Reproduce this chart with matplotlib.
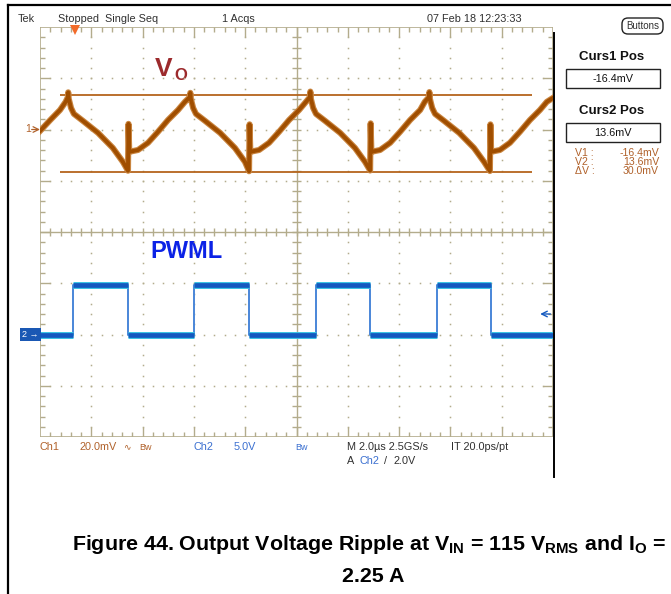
import matplotlib
matplotlib.use("Agg")
import matplotlib.pyplot as plt
import matplotlib.transforms as mtransforms
from matplotlib.patches import Rectangle, FancyBboxPatch
from matplotlib import font_manager as fm
import numpy as np

W, H = 671, 594

# ---------------- data ----------------
# Ch1: output voltage ripple (mV) vs time (us)
ch1_time_us = [-10.00, -9.60, -9.22, -9.00, -8.91, -8.90, -8.88, -8.79, -8.68, -8.33, -7.74, -7.16, -6.77, -6.57,
               -6.55, -6.52, -6.18, -5.79, -5.40, -5.01, -4.62, -4.35, -4.15, -4.14, -4.12, -4.03, -3.92, -3.57,
               -2.98, -2.40, -2.01, -1.85, -1.83, -1.80, -1.46, -1.07, -0.68, -0.29, 0.10, 0.37, 0.53, 0.54,
               0.56, 0.65, 0.76, 1.11, 1.70, 2.28, 2.67, 2.87, 2.89, 2.92, 3.26, 3.65, 4.04, 4.43, 4.82, 5.00,
               5.17, 5.18, 5.20, 5.29, 5.40, 5.75, 6.34, 6.92, 7.31, 7.54, 7.56, 7.59, 7.93, 8.32, 8.71, 9.10,
               9.49, 9.76, 9.98]
ch1_mv = [-0.6, 3.7, 7.6, 10.8, 12.7, 14.5, 12.0, 8.4, 6.1, 3.4, -1.3, -7.2, -12.6, -16.1,
          2.2, -8.7, -8.0, -5.2, -0.9, 3.7, 7.6, 10.8, 12.7, 14.3, 12.0, 8.4, 6.1, 3.4,
          -1.3, -7.2, -12.6, -16.3, 2.0, -8.7, -8.0, -5.2, -0.9, 3.7, 7.6, 10.8, 12.7, 14.8,
          12.0, 8.4, 6.1, 3.4, -1.3, -7.2, -12.6, -16.0, 2.4, -8.7, -8.0, -5.2, -0.9, 3.7, 7.6, 10.8,
          12.7, 14.6, 12.0, 8.4, 6.1, 3.4, -1.3, -7.2, -12.6, -16.2, 2.0, -8.7, -8.0, -5.2, -0.9, 3.7,
          7.6, 10.8, 12.2]

# Ch2: PWML gate signal edges (us) and levels (V)
pwm_rise_us = [-8.70, -3.98, 0.76, 5.46]
pwm_fall_us = [-6.56, -1.84, 2.88, 7.58]
pwm_high_v = 4.8
pwm_low_v = 0.0

# cursors, trigger and scope settings
cursor_mv = [-16.4, 13.6]
cursor_span_us = [-9.22, 9.18]
trigger_level_v = 2.0
trigger_time_us = -8.65
time_per_div_us = 2.0
ch1_mv_per_div = 20.0
ch2_v_per_div = 5.0
ch1_pos_div = 2.0
ch2_pos_div = -2.0

# ---------------- style ----------------
names = {f.name for f in fm.fontManager.ttflist}
NARROW = 'Liberation Sans Narrow' if 'Liberation Sans Narrow' in names else 'Liberation Sans'
NFAM = [NARROW, 'DejaVu Sans']
plt.rcParams['mathtext.fontset'] = 'custom'
plt.rcParams['mathtext.rm'] = 'Liberation Sans:bold'
plt.rcParams['mathtext.bf'] = 'Liberation Sans:bold'

GRAT = '#b3ac8c'
C1 = '#a04e00'
C1_LIGHT = '#c98540'
C1_TXT = '#b0612a'
CUR = '#b5651d'
C2 = '#1459bf'
C2_LIGHT = '#38c4e4'
C2_TXT = '#3a6fd0'
DARK = '#303030'

fig = plt.figure(figsize=(W / 100, H / 100), dpi=100)
fig.patch.set_facecolor('white')

# page axes in pixel units for frame and text
page = fig.add_axes([0, 0, 1, 1])
page.set_xlim(0, W)
page.set_ylim(H, 0)
page.axis('off')

# ---------------- graticule ----------------
L, R, T, B = 40, 553, 27, 437
pos = [L / W, 1 - B / H, (R - L) / W, (B - T) / H]
grat = fig.add_axes(pos)
grat.set_xlim(-5, 5)
grat.set_ylim(-4, 4)
grat.axis('off')
grat.patch.set_alpha(0)

grat.add_patch(Rectangle((-5, -4), 10, 8, fill=False, ec=GRAT, lw=1.2, zorder=1))
grat.axhline(0, color=GRAT, lw=1.0)
grat.axvline(0, color=GRAT, lw=1.0)
steps_x = np.round(np.arange(-5, 5.001, 0.2), 2)
steps_y = np.round(np.arange(-4, 4.001, 0.2), 2)
# dotted division lines
for xi in range(-4, 5):
    if xi == 0:
        continue
    ys = steps_y[1:-1]
    grat.plot(np.full(len(ys), xi), ys, ls='none', marker='s', ms=1.1, color=GRAT, mew=0)
for yi in range(-3, 4):
    if yi == 0:
        continue
    xs = steps_x[1:-1]
    grat.plot(xs, np.full(len(xs), yi), ls='none', marker='s', ms=1.1, color=GRAT, mew=0)
# ticks on centre lines and edges
for x in steps_x[1:-1]:
    major = abs(x - round(x)) < 1e-6
    grat.vlines(x, -0.08, 0.08, color=GRAT, lw=1.0)
    ln = 0.2 if major else 0.1
    grat.vlines(x, 4 - ln, 4, color=GRAT, lw=1.0)
    grat.vlines(x, -4, -4 + ln, color=GRAT, lw=1.0)
for y in steps_y[1:-1]:
    major = abs(y - round(y)) < 1e-6
    grat.hlines(y, -0.08, 0.08, color=GRAT, lw=1.0)
    ln = 0.2 if major else 0.1
    grat.hlines(y, -5, -5 + ln, color=GRAT, lw=1.0)
    grat.hlines(y, 5 - ln, 5, color=GRAT, lw=1.0)

# ---------------- Ch1 trace ----------------
ch1 = fig.add_axes(pos)
ch1.patch.set_alpha(0)
ch1.axis('off')
ch1.set_xlim(-5 * time_per_div_us, 5 * time_per_div_us)
ch1.set_ylim((-4 - ch1_pos_div) * ch1_mv_per_div, (4 - ch1_pos_div) * ch1_mv_per_div)
ch1.hlines(cursor_mv, cursor_span_us[0], cursor_span_us[1], color=CUR, lw=1.3, zorder=2)
ch1.plot(ch1_time_us, ch1_mv, color=C1_LIGHT, lw=4.4, solid_joinstyle='round', zorder=3)
ch1.plot(ch1_time_us, ch1_mv, color=C1, lw=2.8, solid_joinstyle='round', zorder=4)

# ---------------- Ch2 trace ----------------
ch2 = fig.add_axes(pos)
ch2.patch.set_alpha(0)
ch2.axis('off')
ch2.set_xlim(-5 * time_per_div_us, 5 * time_per_div_us)
ch2.set_ylim((-4 - ch2_pos_div) * ch2_v_per_div, (4 - ch2_pos_div) * ch2_v_per_div)
t0, t1 = ch2.get_xlim()
step_t = [t0]
step_v = [pwm_low_v]
for r, f in zip(pwm_rise_us, pwm_fall_us):
    step_t += [r, r, f, f]
    step_v += [pwm_low_v, pwm_high_v, pwm_high_v, pwm_low_v]
step_t.append(t1)
step_v.append(pwm_low_v)
ch2.plot(step_t, step_v, color='#4a86d8', lw=1.4, zorder=3)
low_starts = [t0] + pwm_fall_us
low_ends = pwm_rise_us + [t1]
low_lv = [pwm_low_v] * len(low_starts)
high_lv = [pwm_high_v] * len(pwm_rise_us)
ch2.hlines(low_lv, low_starts, low_ends, color=C2_LIGHT, lw=5.0, zorder=3)
ch2.hlines(low_lv, low_starts, low_ends, color=C2, lw=3.4, zorder=4)
ch2.hlines(high_lv, pwm_rise_us, pwm_fall_us, color=C2_LIGHT, lw=5.0, zorder=3)
ch2.hlines(high_lv, pwm_rise_us, pwm_fall_us, color=C2, lw=3.4, zorder=4)

# channel ground markers and trigger markers
left_blend1 = mtransforms.blended_transform_factory(ch1.transAxes, ch1.transData)
ch1.annotate('', xy=(0, 0), xycoords=left_blend1, xytext=(-6, 0), textcoords='offset points',
             arrowprops=dict(arrowstyle='->', color=C1_TXT, lw=0.9, shrinkA=0, shrinkB=0),
             annotation_clip=False)
ch1.text(-0.018, 0, '1', transform=left_blend1, ha='right', va='center', color=C1_TXT,
         fontsize=7.5, family=NFAM, clip_on=False)
left_blend2 = mtransforms.blended_transform_factory(ch2.transAxes, ch2.transData)
ch2.text(-0.002, 0, '2 \u2192', transform=left_blend2, ha='right', va='center', color='white',
         fontsize=6.5, family=NFAM, clip_on=False,
         bbox=dict(boxstyle='square,pad=0.25', fc='#1a58b4', ec='none'))
ch2.annotate('', xy=(0.975, trigger_level_v), xycoords=left_blend2, xytext=(0.995, trigger_level_v),
             textcoords=left_blend2,
             arrowprops=dict(arrowstyle='->', color=C2, lw=1.0, shrinkA=0, shrinkB=0),
             annotation_clip=False)
top_blend = mtransforms.blended_transform_factory(ch2.transData, ch2.transAxes)
ch2.plot([trigger_time_us], [0.992], transform=top_blend, marker='v', ms=6.5, color='#f26b2a',
         mew=0, clip_on=False, zorder=6)

# labels inside the screen
page.text(155, 69, 'V', color='#9c2a2c', fontsize=19, fontweight='bold', family='Liberation Sans',
          ha='left', va='center')
page.text(174, 75, 'O', color='#9c2a2c', fontsize=12, fontweight='bold', family='Liberation Sans',
          ha='left', va='center')
page.text(150, 252, 'PWML', color='#0b22e6', fontsize=17, fontweight='bold', family='Liberation Sans',
          ha='left', va='center')

# ---------------- status text ----------------
fs = 7.8
page.text(18, 19, 'Tek', fontsize=fs, family=NFAM, color=DARK, va='center')
page.text(58, 19, 'Stopped  Single Seq', fontsize=fs, family=NFAM, color=DARK, va='center')
page.text(222, 19, '1 Acqs', fontsize=fs, family=NFAM, color=DARK, va='center')
page.text(427, 19, '07 Feb 18 12:23:33', fontsize=fs, family=NFAM, color=DARK, va='center')

# bottom settings readout
yb1, yb2 = 447, 461
page.text(40, yb1, 'Ch1', fontsize=fs, family=NFAM, color=C1_TXT, va='center')
page.text(80, yb1, '20.0mV', fontsize=fs, family=NFAM, color=C1_TXT, va='center')
page.text(123, yb1, '\u223f', fontsize=6.5, family=['DejaVu Sans'], color=C1_TXT, va='center')
page.text(139, yb1, 'Bw', fontsize=6.5, family=NFAM, color=C1_TXT, va='center')
page.text(193, yb1, 'Ch2', fontsize=fs, family=NFAM, color=C2_TXT, va='center')
page.text(234, yb1, '5.0V', fontsize=fs, family=NFAM, color=C2_TXT, va='center')
page.text(295, yb1, 'Bw', fontsize=6.5, family=NFAM, color=C2_TXT, va='center')
page.text(347, yb1, 'M 2.0\u00b5s 2.5GS/s', fontsize=fs, family=NFAM, color=DARK, va='center')
page.text(451, yb1, 'IT 20.0ps/pt', fontsize=fs, family=NFAM, color=DARK, va='center')
page.text(347, yb2, 'A', fontsize=fs, family=NFAM, color=DARK, va='center')
page.text(359, yb2, 'Ch2', fontsize=fs, family=NFAM, color=C2_TXT, va='center')
page.text(384, yb2, '/', fontsize=fs, family=NFAM, color=DARK, va='center')
page.text(394, yb2, '2.0V', fontsize=fs, family=NFAM, color=DARK, va='center')

# ---------------- side panel ----------------
page.add_patch(FancyBboxPatch((622, 18), 41, 16, boxstyle='round,pad=0,rounding_size=6',
                              fc='white', ec='#222222', lw=1.0))
page.text(642.5, 26, 'Buttons', fontsize=7, family=NFAM, color=DARK, ha='center', va='center')
page.text(612, 57, 'Curs1 Pos', fontsize=9.5, fontweight='bold', family='Liberation Sans',
          color='#111111', ha='center', va='center')
page.add_patch(Rectangle((566, 69), 94, 19, fc='white', ec='#222222', lw=1.0))
page.text(613, 78.5, '-16.4mV', fontsize=fs, family=NFAM, color='#111111', ha='center', va='center')
page.text(612, 111, 'Curs2 Pos', fontsize=9.5, fontweight='bold', family='Liberation Sans',
          color='#111111', ha='center', va='center')
page.add_patch(Rectangle((566, 123), 94, 19, fc='white', ec='#222222', lw=1.0))
page.text(613, 132.5, '13.6mV', fontsize=fs, family=NFAM, color='#111111', ha='center', va='center')
readout = [('V1 :', '-16.4mV'), ('V2 :', '13.6mV'), ('\u0394V :', '30.0mV')]
for i, (k, v) in enumerate(readout):
    y = 153 + 9 * i
    page.text(575, y, k, fontsize=7.6, family=NFAM, color=C1_TXT, va='center')
    page.text(659, y, v, fontsize=7.6, family=NFAM, color=C1_TXT, va='center', ha='right')

# ---------------- frame lines ----------------
page.plot([7.5, W], [4.5, 4.5], color='black', lw=1.6)
page.plot([7.5, 7.5], [4.5, H], color='black', lw=1.6)
page.plot([554, 554], [33, 477], color='black', lw=1.4)

# ---------------- caption ----------------
page.text(369, 545, r'Figure 44. Output Voltage Ripple at V$_{\mathrm{IN}}$ = 115 V$_{\mathrm{RMS}}$ and I$_{\mathrm{O}}$ =',
          fontsize=15.4, fontweight='bold', family='Liberation Sans', color='black', ha='center', va='center')
page.text(373, 577, '2.25 A', fontsize=15.4, fontweight='bold', family='Liberation Sans', color='black',
          ha='center', va='center')

fig.savefig('out.png', dpi=100, facecolor='white')
